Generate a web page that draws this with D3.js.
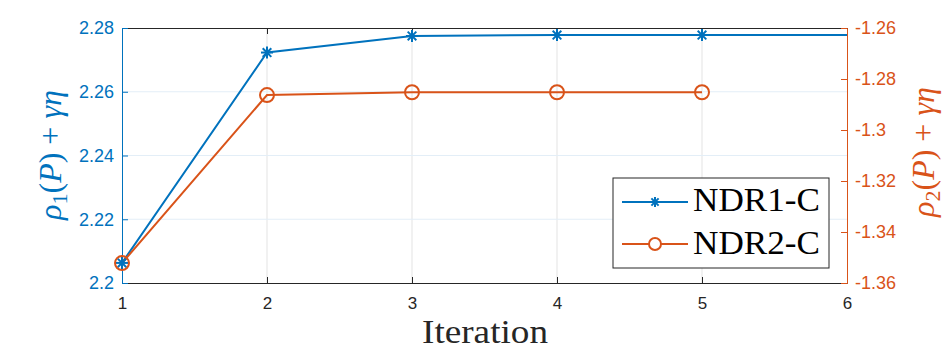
<!DOCTYPE html>
<html>
<head>
<meta charset="utf-8">
<script src="https://cdn.jsdelivr.net/npm/d3@7"></script>
<style>
  body { margin: 0; background: #fff; }
  text { font-family: "Liberation Sans", Arial, sans-serif; }
  .serif { font-family: "Liberation Serif", "Times New Roman", serif; }
</style>
</head>
<body>
<script>
const iterations = [1, 2, 3, 4, 5, 6];
const ndr1 = [2.2063, 2.2723, 2.2775, 2.2778, 2.2778, 2.2778];
const ndr2 = [-1.3522, -1.2863, -1.2852, -1.2852, -1.2852];
const leftTicks = [2.2, 2.22, 2.24, 2.26, 2.28];
const rightTicks = [-1.36, -1.34, -1.32, -1.3, -1.28, -1.26];
const seriesNames = ['NDR1-C', 'NDR2-C'];

const blue = '#0072BD';
const orange = '#D95319';
const dark = '#262626';

const width = 947, height = 356;
const margin = { left: 122, right: 100, top: 28, bottom: 73 };

const svg = d3.select('body').append('svg')
  .attr('width', width)
  .attr('height', height);

const x = d3.scaleLinear().domain([1, 6]).range([margin.left, width - margin.right]);
const yL = d3.scaleLinear().domain([2.2, 2.28]).range([height - margin.bottom, margin.top]);
const yR = d3.scaleLinear().domain([-1.36, -1.26]).range([height - margin.bottom, margin.top]);

const x0 = x.range()[0], x1 = x.range()[1];
const yB = yL.range()[0], yT = yL.range()[1];

// grid
svg.append('g').selectAll('line.vg')
  .data(iterations.slice(1, -1))
  .join('line')
  .attr('x1', d => x(d)).attr('x2', d => x(d))
  .attr('y1', yT).attr('y2', yB)
  .attr('stroke', '#e3e3e3').attr('stroke-width', 1);
svg.append('g').selectAll('line.hg')
  .data(leftTicks.slice(1, -1))
  .join('line')
  .attr('x1', x0).attr('x2', x1)
  .attr('y1', d => yL(d)).attr('y2', d => yL(d))
  .attr('stroke', '#e3eef7').attr('stroke-width', 1);

// axes
const xAxis = svg.append('g')
  .attr('transform', `translate(0, ${yB})`)
  .call(d3.axisBottom(x).tickValues(iterations).tickFormat(d3.format('d')).tickSize(-6).tickPadding(14));
xAxis.select('.domain').attr('stroke', dark);
xAxis.selectAll('.tick line').attr('stroke', dark);
xAxis.selectAll('.tick text').attr('fill', dark).attr('font-size', 17);

const xTop = svg.append('g')
  .attr('transform', `translate(0, ${yT})`)
  .call(d3.axisTop(x).tickValues(iterations).tickFormat('').tickSize(-6));
xTop.select('.domain').attr('stroke', dark);
xTop.selectAll('.tick line').attr('stroke', dark);

const leftAxis = svg.append('g')
  .attr('transform', `translate(${x0}, 0)`)
  .call(d3.axisLeft(yL).tickValues(leftTicks).tickFormat(d3.format('')).tickSize(-6).tickPadding(8));
leftAxis.select('.domain').attr('stroke', blue);
leftAxis.selectAll('.tick line').attr('stroke', blue);
leftAxis.selectAll('.tick text').attr('fill', blue).attr('font-size', 18);

const rightAxis = svg.append('g')
  .attr('transform', `translate(${x1}, 0)`)
  .call(d3.axisRight(yR).tickValues(rightTicks).tickFormat(d3.format('')).tickSize(-6).tickPadding(8));
rightAxis.select('.domain').attr('stroke', orange);
rightAxis.selectAll('.tick line').attr('stroke', orange);
rightAxis.selectAll('.tick text').attr('fill', orange).attr('font-size', 18)
  .text(d => d3.format('')(d).replace('−', '-'));

// series
const line1 = d3.line().x((d, i) => x(iterations[i])).y(d => yL(d));
const line2 = d3.line().x((d, i) => x(iterations[i])).y(d => yR(d));

svg.append('path').datum(ndr1)
  .attr('d', line1).attr('fill', 'none')
  .attr('stroke', blue).attr('stroke-width', 2);
svg.append('path').datum(ndr2)
  .attr('d', line2).attr('fill', 'none')
  .attr('stroke', orange).attr('stroke-width', 2);

function star(g, cx, cy, r, color) {
  const s = g.append('g').attr('transform', `translate(${cx},${cy})`)
    .attr('stroke', color).attr('stroke-width', 2);
  s.append('line').attr('x1', -r).attr('x2', r).attr('y1', 0).attr('y2', 0);
  s.append('line').attr('x1', 0).attr('x2', 0).attr('y1', -r).attr('y2', r);
  const k = r * 0.72;
  s.append('line').attr('x1', -k).attr('x2', k).attr('y1', -k).attr('y2', k);
  s.append('line').attr('x1', -k).attr('x2', k).attr('y1', k).attr('y2', -k);
}

const marks = svg.append('g');
ndr1.slice(0, 5).forEach((d, i) => star(marks, x(iterations[i]), yL(d), 6, blue));
marks.selectAll('circle.m2')
  .data(ndr2)
  .join('circle')
  .attr('cx', (d, i) => x(iterations[i]))
  .attr('cy', d => yR(d))
  .attr('r', 7)
  .attr('fill', 'none')
  .attr('stroke', orange)
  .attr('stroke-width', 2);

// axis labels
svg.append('text').attr('class', 'serif')
  .attr('x', 485).attr('y', 343)
  .attr('text-anchor', 'middle')
  .attr('font-size', 33).attr('fill', dark)
  .attr('textLength', 126).attr('lengthAdjust', 'spacingAndGlyphs')
  .text('Iteration');

function mathLabel(cx, cy, color, sub) {
  const t = svg.append('text').attr('class', 'serif')
    .attr('transform', `translate(${cx},${cy}) rotate(-90)`)
    .attr('text-anchor', 'middle')
    .attr('font-size', 32).attr('fill', color);
  t.append('tspan').attr('font-style', 'italic').text('ρ');
  t.append('tspan').attr('font-size', 22).attr('dy', 6).text(sub);
  t.append('tspan').attr('dy', -6).text('(');
  t.append('tspan').attr('font-style', 'italic').text('P');
  t.append('tspan').text(') + ');
  t.append('tspan').attr('font-style', 'italic').text('γη');
}
mathLabel(61, 155, blue, '1');
mathLabel(934, 152, orange, '2');

// legend
const lg = svg.append('g');
lg.append('rect')
  .attr('x', 613).attr('y', 178).attr('width', 216).attr('height', 90)
  .attr('fill', '#fff').attr('stroke', dark).attr('stroke-width', 1);
[blue, orange].forEach((c, i) => {
  const cy = 202 + i * 42;
  lg.append('line').attr('x1', 622).attr('x2', 688).attr('y1', cy).attr('y2', cy)
    .attr('stroke', c).attr('stroke-width', 2);
  if (i === 0) star(lg, 655, cy, 5, c);
  else lg.append('circle').attr('cx', 655).attr('cy', cy).attr('r', 6)
    .attr('fill', '#fff').attr('stroke', c).attr('stroke-width', 2);
  lg.append('text').attr('class', 'serif')
    .attr('x', 693).attr('y', cy + 9 + i * 0.5)
    .attr('font-size', 33).attr('fill', '#000')
    .attr('textLength', 127).attr('lengthAdjust', 'spacingAndGlyphs')
    .text(seriesNames[i]);
});
</script>
</body>
</html>
